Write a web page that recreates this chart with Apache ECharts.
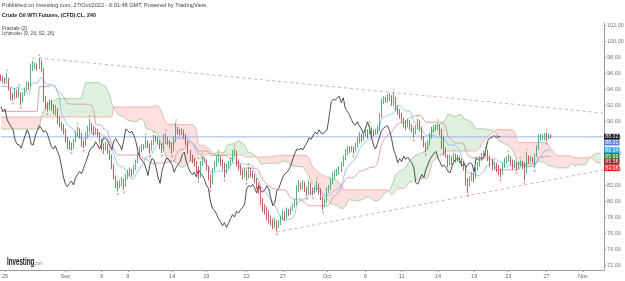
<!DOCTYPE html>
<html><head><meta charset="utf-8">
<script src="https://cdn.jsdelivr.net/npm/echarts@6/dist/echarts.min.js"></script>
<style>html,body{margin:0;padding:0;background:#fff}#c{width:625px;height:281px}</style>
</head><body><div id="c"></div>
<script>
// ---- price data (4h candles, Aug 25 -> Oct 27) ----
const firstOpen = 95.6;
const closes = [
95.4,95.2,94.9,95.3,94.1,92.9, 92.8,93.6,93.3,93.5,92.4,93.2, 93.9,94.5,94.4,96.6,96.9,97.0,
96.7,97.4,96.4,92.8,92.0,91.6, 92.3,91.8,91.2,91.5,90.2,89.7, 89.3,88.9,87.6,87.1,87.0,86.6,
87.4,88.2,88.9,88.3,87.1,87.0, 88.1,88.8,89.4,89.1,88.6,88.8, 88.4,87.6,86.8,86.5,86.9,86.2,
85.6,84.4,83.0,82.1,81.8,82.2, 82.5,82.0,82.9,83.3,83.7,83.4, 84.1,84.8,85.5,86.3,86.7,86.8,
87.4,87.0,86.5,87.2,87.9,87.8, 87.5,86.9,86.4,87.5,87.8,87.3, 87.0,86.4,87.6,89.0,88.8,88.5,
88.7,88.2,87.4,86.2,85.4,85.1, 84.8,84.1,83.2,84.6,85.3,85.1, 84.2,83.0,82.2,83.8,84.6,85.3,
85.3,84.9,84.5,83.6,84.2,84.6, 84.9,85.8,86.1,85.0,84.2,83.6, 83.3,83.6,83.0,83.9,83.5,83.2,
82.7,82.0,81.6,80.0,79.1,78.8, 78.4,77.8,77.4,76.9,77.3,76.7, 77.2,77.8,78.3,78.0,78.7,78.5,
78.9,79.2,79.6,81.5,81.9,81.8, 82.1,81.6,81.0,82.0,81.3,81.1, 81.4,81.9,81.5,80.4,79.4,79.8,
81.3,81.6,82.3,83.0,83.4,83.6, 83.9,84.5,85.3,86.0,86.5,86.4, 86.6,86.4,86.9,87.3,87.9,87.7,
88.2,88.6,88.4,88.9,88.5,88.4, 88.7,88.9,90.6,92.4,92.7,92.6, 92.9,93.1,92.3,92.9,91.6,91.2,
90.8,90.2,89.7,89.5,89.9,89.4, 89.0,88.4,89.1,89.9,89.2,88.0, 87.0,86.5,87.2,88.0,88.8,89.1,
89.3,89.4,88.8,87.8,86.4,85.8, 84.8,85.3,84.9,85.6,85.2,85.5, 85.1,84.8,84.2,82.3,82.1,82.7,
83.3,82.9,83.9,84.5,85.2,85.6, 85.9,86.2,85.4,84.9,84.3,84.5, 84.2,83.7,83.5,84.3,85.0,85.2,
85.4,85.0,84.4,84.7,84.2,84.6, 84.8,84.6,83.6,85.4,85.1,85.3, 85.2,85.6,86.6,87.7,87.9,88.0,
88.2,87.9,88.1,88.02];
const highs = [
95.8,95.6,95.4,96.0,95.4,94.2, 93.5,94.1,93.9,94.2,93.6,93.6, 94.2,94.9,94.9,97.2,97.5,97.3,
97.2,97.9,97.6,96.6,93.1,92.4, 92.7,92.6,92.1,92.0,91.6,90.6, 89.9,89.6,89.0,88.0,87.6,87.3,
87.8,88.7,89.3,89.1,88.5,87.6, 88.6,89.4,90.3,89.8,89.4,89.2, 89.0,88.6,87.8,87.2,87.4,87.1,
86.4,85.8,84.6,83.2,82.5,82.6, 83.0,82.8,83.4,83.9,84.2,84.0, 84.5,85.2,86.1,86.8,87.1,87.1,
88.0,87.6,87.2,87.6,88.3,88.2, 88.0,87.6,87.2,88.3,88.5,88.0, 87.6,87.3,88.1,89.8,89.3,89.0,
89.1,88.9,88.4,87.6,86.4,85.8, 85.4,85.0,84.3,85.0,85.6,85.4, 85.2,84.4,83.3,84.1,85.0,85.7,
85.9,85.6,85.2,84.8,84.6,85.0, 85.4,86.4,86.6,86.3,85.2,84.6, 84.0,84.1,83.9,84.3,84.2,83.8,
83.4,82.9,82.3,81.8,80.4,79.6, 79.3,78.8,78.2,77.8,77.9,77.6, 77.6,78.2,78.9,78.7,79.2,79.0,
79.3,79.7,80.2,82.0,82.6,82.3, 82.6,82.4,81.8,82.6,82.3,81.7, 81.8,82.5,82.2,81.6,80.6,80.3,
81.7,82.0,82.9,83.6,83.9,84.0, 84.3,84.9,85.7,86.5,86.9,86.8, 86.9,86.8,87.3,88.0,88.6,88.4,
88.6,89.1,89.0,89.5,89.2,88.9, 89.0,89.4,91.0,92.8,93.1,93.0, 93.4,93.5,93.2,93.6,93.0,91.9,
91.5,91.0,90.4,90.1,90.3,90.1, 89.6,89.2,89.5,90.3,90.1,89.3, 88.1,87.3,87.6,88.5,89.3,89.5,
89.6,89.8,89.6,89.0,88.0,86.7, 85.8,85.8,85.6,86.0,85.9,85.8, 85.6,85.3,85.0,84.3,82.9,83.1,
83.6,83.5,84.2,84.9,85.6,86.0, 86.3,86.8,86.4,85.7,85.3,84.9, 84.8,84.5,84.1,84.8,85.4,85.6,
85.9,85.6,85.2,85.1,84.9,84.9, 85.1,85.0,84.8,86.1,85.7,85.6, 85.5,85.9,87.0,88.3,88.4,88.4,
88.5,88.6,88.4,88.3];
const lows = [
95.0,94.8,94.6,94.7,93.8,92.6, 92.5,92.7,92.9,92.9,92.0,92.3, 93.1,93.7,93.9,94.3,96.2,96.5,
96.3,96.5,96.1,92.4,91.5,91.2, 91.4,91.3,90.9,90.7,89.6,89.2, 88.8,88.3,87.3,86.5,86.4,86.3,
86.5,87.3,88.0,87.8,86.8,86.6, 86.9,87.9,88.6,88.5,88.2,88.3, 88.0,87.2,86.3,85.9,86.3,85.9,
85.1,84.0,82.7,81.6,81.2,81.6, 81.9,81.4,81.8,82.7,83.1,83.0, 83.3,83.9,84.7,85.4,86.1,86.4,
86.6,86.6,85.9,86.3,87.0,87.4, 87.1,86.5,86.0,86.2,87.2,87.0, 86.6,85.9,86.2,87.4,88.3,88.2,
88.2,87.8,87.0,85.9,85.0,84.7, 84.3,83.5,82.7,82.9,84.4,84.8, 83.8,82.6,81.6,82.1,83.7,84.3,
84.8,84.4,83.9,82.9,83.4,84.0, 84.4,84.8,85.5,84.3,83.8,83.2, 82.7,82.9,82.5,82.8,83.0,82.8,
82.2,81.5,80.9,79.5,78.6,78.3, 77.6,77.2,76.9,76.5,76.6,76.2, 76.6,77.0,77.6,77.5,77.8,78.1,
78.3,78.8,79.2,79.5,81.1,81.4, 81.5,81.1,80.6,80.8,80.8,80.7, 80.9,81.2,80.8,80.1,78.9,79.2,
79.8,81.0,81.4,82.1,82.7,83.1, 83.3,83.6,84.3,85.1,85.7,86.0, 86.1,85.9,86.2,86.7,87.2,87.4,
87.6,88.1,87.8,88.3,88.0,88.1, 88.3,88.4,88.8,90.4,92.1,92.3, 92.3,92.5,91.9,91.9,91.3,90.8,
90.3,89.8,89.2,88.9,89.2,88.9, 88.6,87.9,88.3,88.9,88.7,87.6, 86.7,86.1,86.4,87.0,87.8,88.5,
88.8,88.9,88.2,86.5,85.7,85.4, 84.2,84.4,84.5,84.7,84.8,84.9, 84.7,84.3,83.8,81.9,81.0,81.8,
82.5,82.3,82.8,83.8,84.3,85.0, 85.3,85.6,85.0,84.2,83.8,83.9, 83.6,83.2,82.9,83.3,84.1,84.7,
84.9,84.5,83.9,84.1,83.8,84.0, 84.3,84.0,82.56,83.4,84.7,84.9, 84.8,84.08,85.5,86.4,87.5,87.6,
87.6,87.5,87.7,87.8];

// ---- indicator values before the first candle ----
const tenkanHead = [94.3,94.3,94.3,94.3,94.3,94.2,94.1,94.0];
const kijunHead = [91.2,91.2,91.2,91.2,91.2,91.2,91.2,91.2,91.2,91.2,91.2,91.2,91.2,91.2,91.2,91.2,91.2,91.2,91.2,
  94.3,94.3,94.3,94.3,94.3,94.3];
const spanAHead = [89.0,89.0,89.0,89.0,89.0,89.0,89.0,89.0,89.0,89.0,89.0,89.0,89.0,89.0,89.0,89.0,89.0,89.0,89.0,89.0,
  90.5,91.2,91.6,92.0,92.3,92.4,92.6,92.6,92.8,92.8,92.8,92.8,92.8,92.8,92.8,92.8,92.8,92.8,92.8,92.8,92.8,
  93.8,94.8,94.8,94.8,94.8,94.8,94.8,94.8,94.8];
const spanBHead = [
  90.5,90.5,90.5,90.5,90.5,90.5,90.5,90.5,90.5,90.5,90.5,90.5,90.5,90.5,90.5,90.5,90.5,90.5,90.5,90.5,
  90.5,90.5,90.5,90.5,90.5,90.5,90.5,90.5,90.5,90.5,90.5,90.5,90.5,90.5,90.5,90.5,90.5,90.5,90.5,90.5,
  90.5,90.5,90.5,90.5,90.5,90.5,90.5,90.5,90.5,90.5,90.5,90.5,90.5,90.5,90.5,90.5,
  91.75,91.75,91.75,91.75,91.75,91.75,91.75,91.75,91.75,91.75,91.75,91.75,91.75,91.75,91.75,91.75,91.75,91.75,91.75,91.75];

// ---- axes / annotations ----
const tickIdx  = [2,32,50,63,85,102,122,140,162,181,199,217,235,252,271,289];
const tickText = ['25','Sep','6','9','14','19','22','27','Oct','6','11','14','19','23','27','Nov'];
const trendUpper = [[19.4,97.875],[299,91.0]];
const trendLower = [[137,76.125],[299,83.875]];
const priceLabels = [88.02, 88.02, 86.34, 85.96, 85.58, 84.08];

const N = 300, SHIFT = 25;
const cats = Array.from({length:N},(_,i)=>i);
const n = closes.length;
const opens = closes.map((c,i)=> i===0 ? firstOpen : closes[i-1]);
const candle = closes.map((c,i)=>[opens[i], c, lows[i], highs[i]]);
function donch(i,len){let h=-Infinity,l=Infinity;for(let k=i-len+1;k<=i;k++){h=Math.max(h,highs[k]);l=Math.min(l,lows[k]);}return (h+l)/2;}
const tenkan = new Array(N).fill(null), kijun = new Array(N).fill(null);
for(let i=0;i<n;i++){ tenkan[i]= i<8?tenkanHead[i]:donch(i,9); kijun[i]= i<25?kijunHead[i]:donch(i,26); }
const spanA = new Array(N).fill(null), spanB = new Array(N).fill(null);
for(let j=0;j<N;j++){
  const i=j-SHIFT;
  if(j<spanAHead.length) spanA[j]=spanAHead[j]; else if(i<n) spanA[j]=(tenkan[i]+kijun[i])/2;
  if(j<spanBHead.length) spanB[j]=spanBHead[j]; else if(i<n) spanB[j]=donch(i,52);
}
const chikou = new Array(N).fill(null);
for(let i=SHIFT;i<n;i++) chikou[i-SHIFT]=closes[i];
const priceLine = cats.map(()=>priceLabels[0]);
const fracUp=[], fracDn=[];
for(let i=2;i<n-2;i++){
  if(highs[i]>highs[i-1]&&highs[i]>highs[i-2]&&highs[i]>highs[i+1]&&highs[i]>highs[i+2]) fracUp.push([i,highs[i]]);
  if(lows[i]<lows[i-1]&&lows[i]<lows[i-2]&&lows[i]<lows[i+1]&&lows[i]<lows[i+2]) fracDn.push([i,lows[i]]);
}
const cloudData=[];
for(let j=0;j<N-1;j++){ if(spanA[j]!=null&&spanB[j]!=null&&spanA[j+1]!=null&&spanB[j+1]!=null) cloudData.push([j,spanA[j],spanB[j],spanA[j+1],spanB[j+1]]); }

const FONT = 'Arial, "Liberation Sans", sans-serif';
const chart = echarts.init(document.getElementById('c'), null, {renderer:'canvas'});
const GREEN='rgba(110,185,110,0.22)', RED='rgba(240,110,110,0.22)';
const lineS = (data,color,w,z)=>({type:'line',data:data,showSymbol:false,symbol:'none',connectNulls:false,silent:true,z:z||3,
  lineStyle:{color:color,width:w}});
chart.setOption({
  animation:false,
  backgroundColor:'#fff',
  grid:{left:0,right:21,top:23,bottom:11,containLabel:false,outerBoundsMode:'none'},
  xAxis:{type:'category',data:cats,boundaryGap:true,
    axisLine:{lineStyle:{color:'#9a9a9a',width:1}},
    axisTick:{show:true,alignWithLabel:true,length:2,lineStyle:{color:'#9a9a9a'},interval:(i)=>tickIdx.indexOf(i)>=0},
    axisLabel:{interval:(i)=>tickIdx.indexOf(i)>=0,formatter:(v,i)=>{const k=tickIdx.indexOf(Number(v));return k>=0?tickText[k]:'';},
      fontSize:5.5,color:'#666',margin:3,fontFamily:FONT,hideOverlap:false},
    splitLine:{show:false}},
  yAxis:{type:'value',position:'right',min:71.375,max:102.25,splitNumber:15,scale:true,
    axisLine:{show:true,lineStyle:{color:'#9a9a9a',width:1}},
    axisTick:{show:true,length:2,lineStyle:{color:'#9a9a9a'}},
    axisLabel:{showMinLabel:false,showMaxLabel:false,fontSize:5.5,color:'#777',margin:3,fontFamily:FONT,
      formatter:(v)=>{const r=Math.round(v);return (Math.abs(v-r)<1e-6&&r%2===0)?r.toFixed(2):'';}},
    splitLine:{show:false}},
  series:[
    {type:'custom',data:cloudData,encode:{x:0,y:[1,2]},z:1,silent:true,clip:true,
      renderItem:(params,api)=>{
        const j=api.value(0),a0=api.value(1),b0=api.value(2),a1=api.value(3),b1=api.value(4);
        const pa0=api.coord([j,a0]),pb0=api.coord([j,b0]),pa1=api.coord([j+1,a1]),pb1=api.coord([j+1,b1]);
        const d0=a0-b0,d1=a1-b1;
        if(d0*d1>=0){const col=(d0+d1)>=0?GREEN:RED;
          return {type:'polygon',shape:{points:[pa0,pa1,pb1,pb0]},style:{fill:col}};}
        const t=d0/(d0-d1);const px=[pa0[0]+(pa1[0]-pa0[0])*t,pa0[1]+(pa1[1]-pa0[1])*t];
        return {type:'group',children:[
          {type:'polygon',shape:{points:[pa0,px,pb0]},style:{fill:d0>0?GREEN:RED}},
          {type:'polygon',shape:{points:[px,pa1,pb1]},style:{fill:d1>0?GREEN:RED}}]};
      }},
    lineS(priceLine,'#9db0ec',1,2),
    lineS(spanA,'#93cc93',0.8,2),
    lineS(spanB,'#f3a3a3',0.8,2),
    lineS(kijun,'#cf8f95',0.8,3),
    lineS(tenkan,'#7bbcec',0.8,3),
    lineS(chikou,'#3a3a3a',0.9,4),
    {type:'line',data:trendUpper,showSymbol:false,symbol:'none',silent:true,z:5,lineStyle:{color:'#d7a1ad',width:0.9,type:[3,3]}},
    {type:'line',data:trendLower,showSymbol:false,symbol:'none',silent:true,z:5,lineStyle:{color:'#d7a1ad',width:0.9,type:[3,3]}},
    {type:'candlestick',data:candle,barWidth:1.3,z:6,silent:true,
      itemStyle:{color:'#2f9e62',color0:'#b5383a',borderColor:'#2f9e62',borderColor0:'#b5383a',borderWidth:0.8}},
    {type:'scatter',data:fracUp,symbol:'triangle',symbolSize:2.5,symbolOffset:[0,-3],silent:true,z:7,itemStyle:{color:'#c9b25a'}},
    {type:'scatter',data:fracDn,symbol:'triangle',symbolRotate:180,symbolSize:2.5,symbolOffset:[0,3],silent:true,z:7,itemStyle:{color:'#d57a7a'}}
  ]
});

// right-axis value boxes (stacked so they don't overlap)
const boxColors=['#111111','#5b7fde','#2aa0ee','#2e7d32','#8b1c1c','#f01e1e'];
const g=[];
let prevBottom=-1e9;
priceLabels.forEach((v,k)=>{
  let y=chart.convertToPixel({yAxisIndex:0},v)-3;
  if(y<prevBottom) y=prevBottom;
  prevBottom=y+5.8;
  g.push({type:'rect',shape:{x:604,y:y,width:15.5,height:5.8},style:{fill:boxColors[k]},z:100});
  g.push({type:'text',x:611.8,y:y+3,z:101,style:{text:v.toFixed(2),fill:'#fff',font:'5.2px '+FONT,align:'center',verticalAlign:'middle',textAlign:'center',textVerticalAlign:'middle'}});
});
const txt=(s,x,y,size,color,weight)=>({type:'text',x:x,y:y,z:100,style:{text:s,fill:color,font:(weight||'normal')+' '+size+'px '+FONT,verticalAlign:'middle',textVerticalAlign:'middle'}});
g.push(txt('Published on Investing.com, 27/Oct/2022 - 6:01:48 GMT, Powered by TradingView.',2,5,5.6,'#444'));
g.push(txt('Crude Oil WTI Futures, (CFD):CL, 240',2,16,5.3,'#222','bold'));
g.push(txt('Fractals (2)',2,28.5,5,'#444'));
g.push(txt('Ichimoku (9, 26, 52, 26)',2,33.5,5,'#444'));
g.push({type:'text',x:7,y:262,z:100,scaleX:0.62,style:{text:'Investing',fill:'#111',font:'bold 10px '+FONT,verticalAlign:'middle',textVerticalAlign:'middle'}});
g.push(txt('.com',33,263.5,4.5,'#888'));
chart.setOption({graphic:g});
</script>
</body></html>
